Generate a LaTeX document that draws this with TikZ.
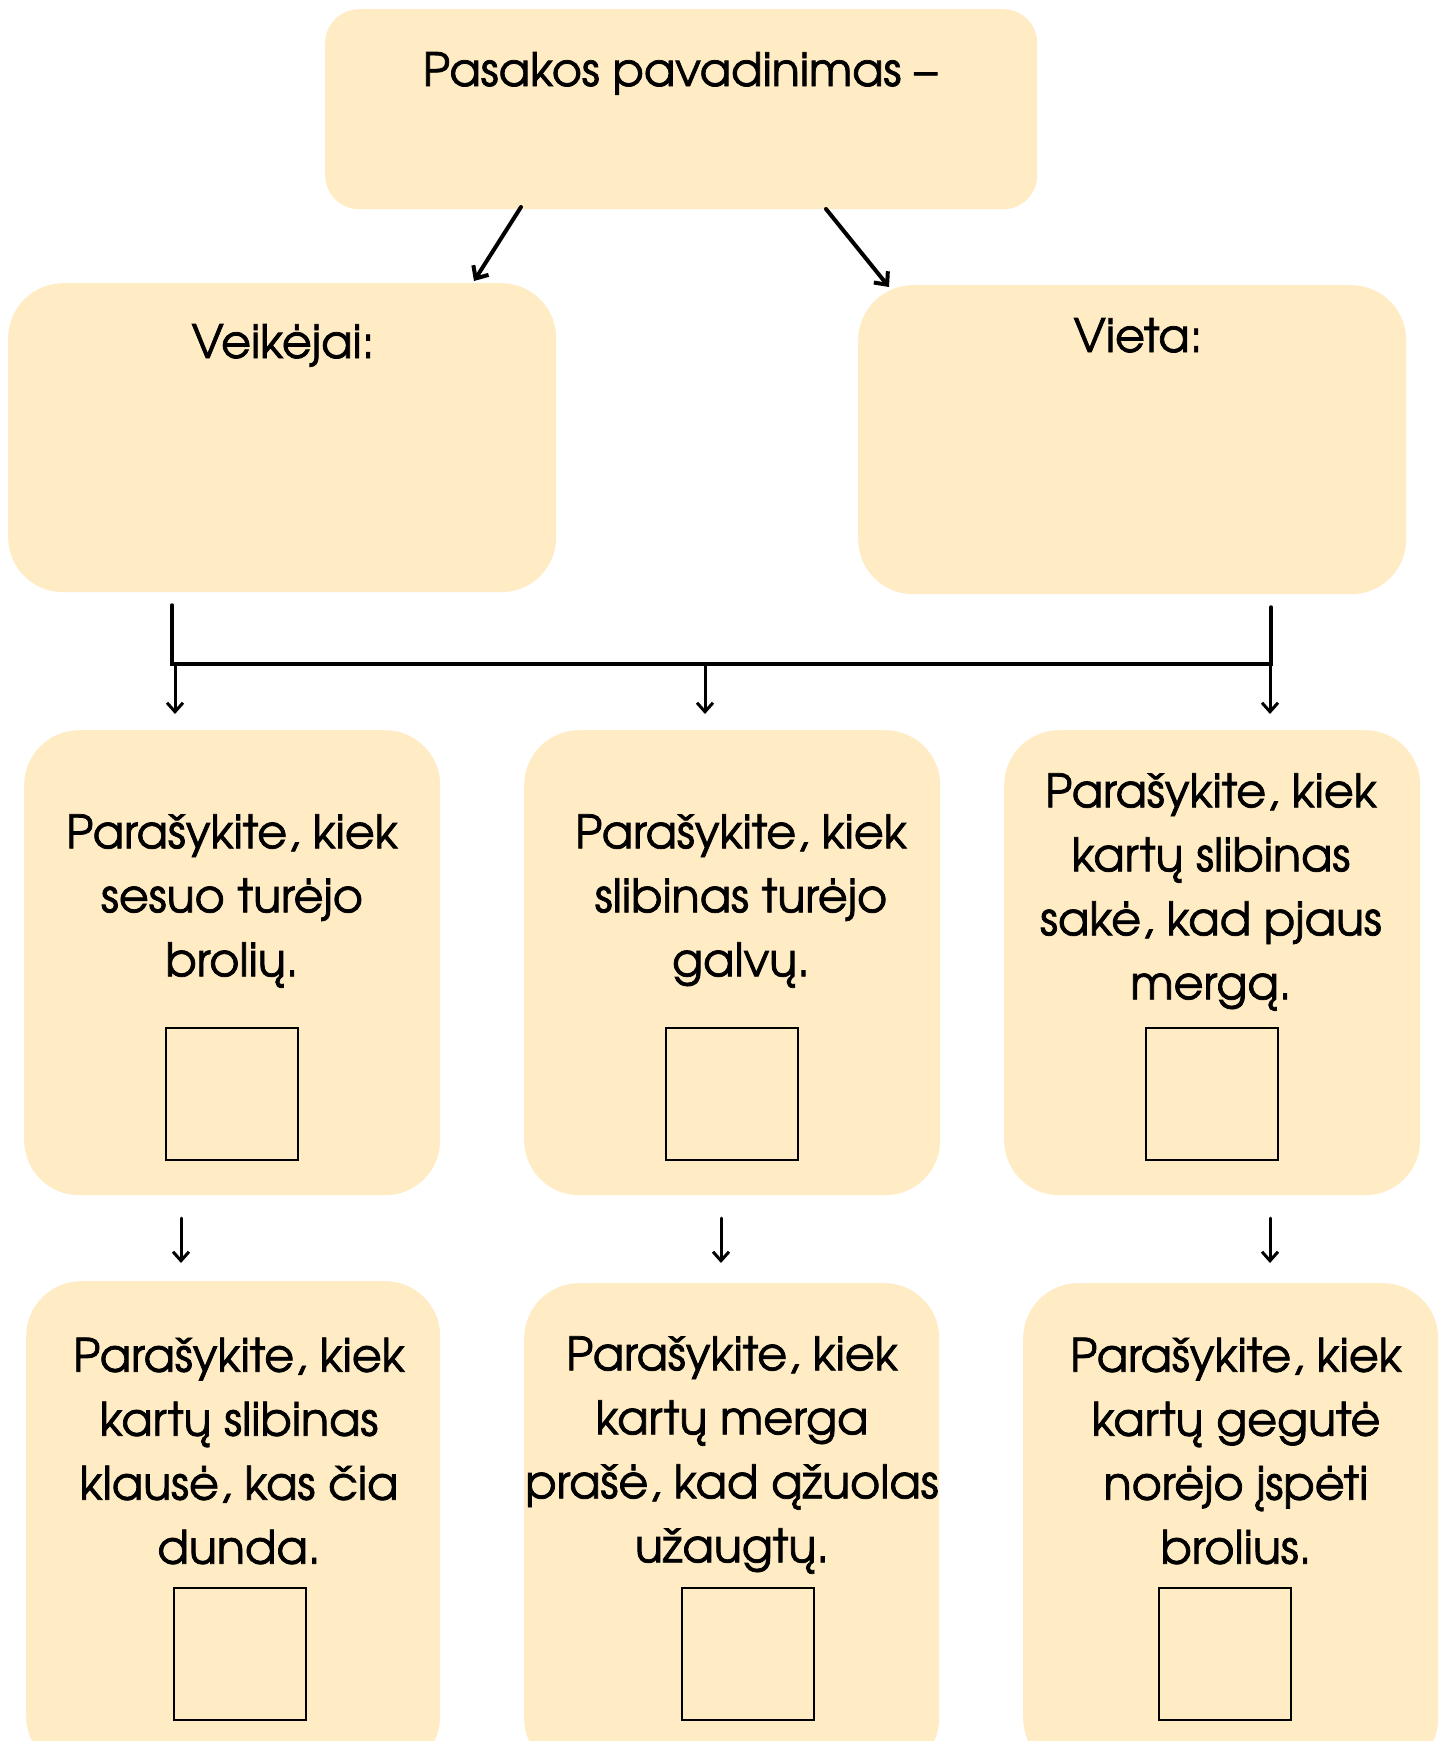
\documentclass[tikz,border=0pt]{standalone}
\usepackage{fontspec}
\setmainfont{texgyreadventor}[Extension=.otf, UprightFont=*-regular, BoldFont=*-bold, UprightFeatures={FakeBold=1.6}]
\usetikzlibrary{arrows.meta}
\definecolor{boxfill}{HTML}{FFEBC4}
\begin{document}
\begin{tikzpicture}[x=1pt,y=-1pt,
  box/.style={draw=none, fill=boxfill, rounded corners=55pt, inner sep=0pt, anchor=north west},
  topbox/.style={box, rounded corners=34pt},
  sq/.style={draw=black, line width=1.5pt, fill=none, inner sep=0pt, minimum size=132pt, anchor=north west},
  txt/.style={align=center, inner sep=0pt, font=\fontsize{46}{64}\selectfont},
  conn/.style={line width=3.5pt, line cap=round},
  arr/.style={line width=3pt, line cap=round, -{Straight Barb[length=9pt,width=16pt,line width=3pt]}},
  arrbig/.style={line width=4pt, line cap=round, -{Straight Barb[length=10pt,width=18pt,line width=4pt]}}
]
\useasboundingbox (0,0) rectangle (1444,1741);
\clip (0,0) rectangle (1444,1741);
\fill[white] (0,0) rectangle (1444,1741);

% top box
\node[topbox, minimum width=712pt, minimum height=200pt] (top) at (325,9) {};
\node[txt, anchor=base] (toptxt) at (680,86) {Pasakos pavadinimas –};

% second row
\node[box, minimum width=548pt, minimum height=309pt] (veik) at (8,283) {};
\node[txt, anchor=base] (veiktxt) at (283,358) {Veikėjai:};
\node[box, minimum width=548pt, minimum height=309pt] (vieta) at (858,285) {};
\node[txt, anchor=base] (vietatxt) at (1138,352) {Vieta:};

% middle row boxes
\node[box, minimum width=416pt, minimum height=465pt] (m1) at (24,730) {};
\node[box, minimum width=416pt, minimum height=465pt] (m2) at (524,730) {};
\node[box, minimum width=416pt, minimum height=465pt] (m3) at (1004,730) {};
\node[txt] (m1t) at (232,901) {Parašykite, kiek\\sesuo turėjo\\brolių.};
\node[txt] (m2t) at (741,901) {Parašykite, kiek\\slibinas turėjo\\galvų.};
\node[txt] (m3t) at (1211,892) {Parašykite, kiek\\kartų slibinas\\sakė, kad pjaus\\mergą.};
\node[sq] (s1) at (165,1027) {};
\node[sq] (s2) at (665,1027) {};
\node[sq] (s3) at (1145,1027) {};

% bottom row boxes
\node[box, minimum width=414pt, minimum height=490pt] (b1) at (26,1281) {};
\node[box, minimum width=415pt, minimum height=490pt] (b2) at (524,1283) {};
\node[box, minimum width=415pt, minimum height=490pt] (b3) at (1023,1283) {};
\node[txt] (b1t) at (239,1451) {Parašykite, kiek\\kartų slibinas\\klausė, kas čia\\dunda.};
\node[txt] (b2t) at (732,1455) {Parašykite, kiek\\kartų merga\\prašė, kad ąžuolas\\užaugtų.};
\node[txt] (b3t) at (1236,1451) {Parašykite, kiek\\kartų gegutė\\norėjo įspėti\\brolius.};
\node[sq] (t1) at (173,1587) {};
\node[sq] (t2) at (681,1587) {};
\node[sq] (t3) at (1158,1587) {};

% connector coordinates
\coordinate (a1s) at (521,207);
\coordinate (a1e) at (474,281);
\coordinate (a2s) at (826,209);
\coordinate (a2e) at (889,287);
\coordinate (kL) at (172,605);
\coordinate (kR) at (1271,607);
\coordinate (hL) at (172,664);
\coordinate (hR) at (1271,664);
\coordinate (d1s) at (175,664); \coordinate (d1e) at (175,714);
\coordinate (d2s) at (705,664); \coordinate (d2e) at (705,714);
\coordinate (d3s) at (1270,664); \coordinate (d3e) at (1270,714);
\coordinate (r1s) at (181,1218); \coordinate (r1e) at (181,1263);
\coordinate (r2s) at (721,1218); \coordinate (r2e) at (721,1263);
\coordinate (r3s) at (1270,1218); \coordinate (r3e) at (1270,1263);

\draw[arrbig] (a1s) -- (a1e);
\draw[arrbig] (a2s) -- (a2e);
\draw[conn] (kL) -- (hL) -- (hR) -- (kR);
\draw[arr] (d1s) -- (d1e);
\draw[arr] (d2s) -- (d2e);
\draw[arr] (d3s) -- (d3e);
\draw[arr] (r1s) -- (r1e);
\draw[arr] (r2s) -- (r2e);
\draw[arr] (r3s) -- (r3e);
\end{tikzpicture}
\end{document}
